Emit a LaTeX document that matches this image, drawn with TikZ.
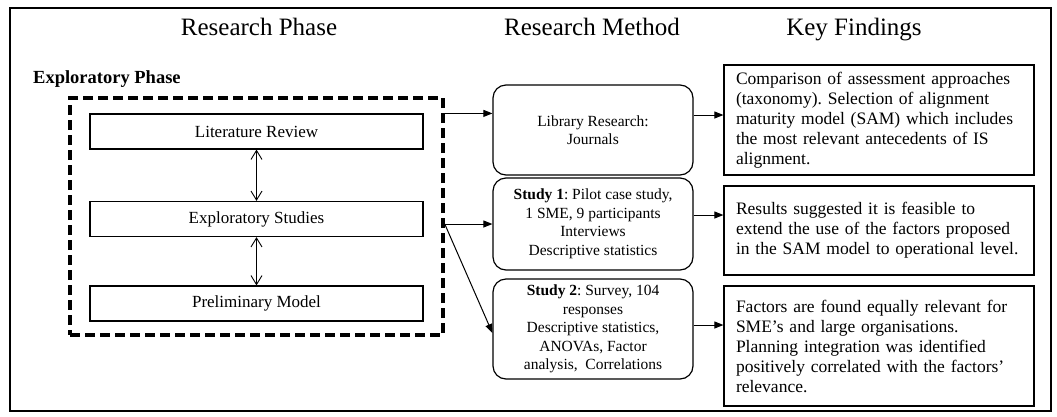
\documentclass[tikz,border=0pt]{standalone}
\usepackage{fontspec}
\setmainfont{Liberation Serif}
\usetikzlibrary{arrows.meta,calc}
\frenchspacing

\begin{document}
\begin{tikzpicture}[x=1pt,y=-1pt,
  heading/.style={font=\fontsize{25}{30}\selectfont, anchor=base, inner sep=0pt},
  phasebox/.style={draw, line width=1.2pt, minimum width=333pt, minimum height=35pt,
    inner sep=0pt, font=\fontsize{17}{20}\selectfont},
  dashframe/.style={draw, line width=3.5pt, dash pattern=on 10pt off 5pt,
    minimum width=373pt, minimum height=237pt, inner sep=0pt},
  methodbox/.style={draw, line width=1.2pt, rounded corners=13pt, minimum width=200pt,
    inner sep=0pt, align=center, font=\fontsize{15.5}{18.5}\selectfont},
  findbox/.style={draw, line width=1.2pt, text width=286pt, inner xsep=12pt, inner ysep=0pt,
    align=left, font=\fontsize{17.5}{20}\selectfont},
  arr/.style={-{Triangle[length=9pt,width=7pt]}, line width=1pt},
  dbl/.style={{Straight Barb[length=9pt,width=11pt]}-{Straight Barb[length=9pt,width=11pt]}, line width=0.9pt}
]
\useasboundingbox (0,0) rectangle (1057,416);

% outer frame
\node[draw, line width=1.2pt, minimum width=1041pt, minimum height=403pt, inner sep=0pt]
  (frame) at (530.5,209.5) {};

% column headings
\node[heading] (hphase) at (259,35) {Research Phase};
\node[heading] (hmethod) at (592,35) {Research Method};
\node[heading] (hfind) at (854,35) {Key Findings};

% exploratory phase group
\node[anchor=base west, inner sep=0pt, font=\bfseries\fontsize{18.5}{22}\selectfont]
  (explabel) at (33,83) {Exploratory Phase};
\node[dashframe] (phase) at (256.5,216.5) {};
\node[phasebox] (lit) at (256.5,131.5) {Literature Review};
\node[phasebox] (expl) at (256.5,219) {Exploratory Studies};
\node[phasebox] (prelim) at (256.5,303.5) {Preliminary Model};
\draw[dbl] (lit.south) -- (expl.north);
\draw[dbl] (expl.south) -- (prelim.north);

% research methods
\node[methodbox, minimum height=90pt] (lib) at (593,130)
  {Library Research:\\Journals};
\node[methodbox, minimum height=92pt] (s1) at (593,224)
  {\textbf{Study 1}: Pilot case study,\\1 SME, 9 participants\\Interviews\\Descriptive statistics};
\node[methodbox, minimum height=100pt] (s2) at (593,329)
  {\textbf{Study 2}: Survey, 104\\responses\\Descriptive statistics,\\ANOVAs, Factor\\analysis,\ \ Correlations};

% key findings
\node[findbox, minimum height=110pt] (f1) at (879,120)
  {Comparison of assessment approaches\\(taxonomy). Selection of alignment\\maturity model (SAM) which includes\\the most relevant antecedents of IS\\alignment.};
\node[findbox, minimum height=89pt] (f2) at (879,230.5)
  {Results suggested it is feasible to\\extend the use of the factors proposed\\in the SAM model to operational level.};
\node[findbox, minimum height=120pt] (f3) at (879,346)
  {Factors are found equally relevant for\\SME’s and large organisations.\\Planning integration was identified\\positively correlated with the factors’\\relevance.};

% connectors
\coordinate (a1) at (phase.east |- lit.north);
\coordinate (a2) at (phase.east |- s1.west);
\draw[arr] (a1) -- (a1 -| lib.west);
\draw[arr] (a2) -- (s1.west);
\draw[arr] (a2) -- ([yshift=-4pt]s2.west);

\coordinate (b1) at ([yshift=15pt]lib.east);
\coordinate (b2) at ([yshift=9pt]s1.east);
\coordinate (b3) at ([yshift=4pt]s2.east);
\draw[arr] (b1) -- (b1 -| f1.west);
\draw[arr] (b2) -- (b2 -| f2.west);
\draw[arr] (b3) -- (b3 -| f3.west);
\end{tikzpicture}
\end{document}
